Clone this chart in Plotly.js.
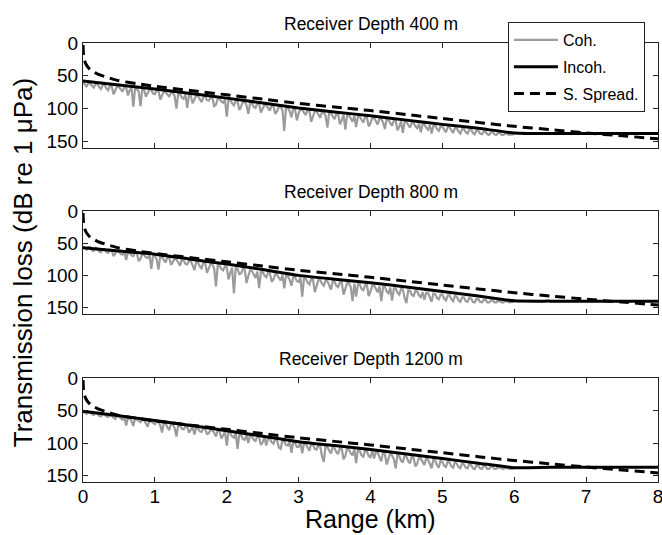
<!DOCTYPE html>
<html>
<head>
<meta charset="utf-8">
<script src="https://cdn.plot.ly/plotly-3.0.1.min.js"></script>
<style>html,body{margin:0;padding:0;background:#fff;}#chart{width:662px;height:535px;}</style>
</head>
<body>
<div id="chart"></div>
<script>
// ---------- data ----------
const panelTitles = ["Receiver Depth 400 m", "Receiver Depth 800 m", "Receiver Depth 1200 m"];
const seriesNames = ["Coh.", "Incoh.", "S. Spread."];
const xAxisTitle = "Range (km)";
const yAxisTitle = "Transmission loss (dB re 1 μPa)";
const xTicks = [0, 1, 2, 3, 4, 5, 6, 7, 8];
const yTicks = [0, 50, 100, 150];

// range grid (km) for the coherent TL samples
const cohRange = [
 0,0.025,0.05,0.075,0.1,0.125,0.15,0.175,0.2,0.225,0.25,0.275,0.3,0.325,0.35,0.375,0.4,0.425,0.45,0.475,
 0.5,0.525,0.55,0.575,0.6,0.625,0.65,0.675,0.7,0.725,0.75,0.775,0.8,0.825,0.85,0.875,0.9,0.925,0.95,0.975,
 1,1.025,1.05,1.075,1.1,1.125,1.15,1.175,1.2,1.225,1.25,1.275,1.3,1.325,1.35,1.375,1.4,1.425,1.45,1.475,
 1.5,1.525,1.55,1.575,1.6,1.625,1.65,1.675,1.7,1.725,1.75,1.775,1.8,1.825,1.85,1.875,1.9,1.925,1.95,1.975,
 2,2.025,2.05,2.075,2.1,2.125,2.15,2.175,2.2,2.225,2.25,2.275,2.3,2.325,2.35,2.375,2.4,2.425,2.45,2.475,
 2.5,2.525,2.55,2.575,2.6,2.625,2.65,2.675,2.7,2.725,2.75,2.775,2.8,2.825,2.85,2.875,2.9,2.925,2.95,2.975,
 3,3.025,3.05,3.075,3.1,3.125,3.15,3.175,3.2,3.225,3.25,3.275,3.3,3.325,3.35,3.375,3.4,3.425,3.45,3.475,
 3.5,3.525,3.55,3.575,3.6,3.625,3.65,3.675,3.7,3.725,3.75,3.775,3.8,3.825,3.85,3.875,3.9,3.925,3.95,3.975,
 4,4.025,4.05,4.075,4.1,4.125,4.15,4.175,4.2,4.225,4.25,4.275,4.3,4.325,4.35,4.375,4.4,4.425,4.45,4.475,
 4.5,4.525,4.55,4.575,4.6,4.625,4.65,4.675,4.7,4.725,4.75,4.775,4.8,4.825,4.85,4.875,4.9,4.925,4.95,4.975,
 5,5.025,5.05,5.075,5.1,5.125,5.15,5.175,5.2,5.225,5.25,5.275,5.3,5.325,5.35,5.375,5.4,5.425,5.45,5.475,
 5.5,5.525,5.55,5.575,5.6,5.625,5.65,5.675,5.7,5.725,5.75,5.775,5.8,5.825,5.85,5.875,5.9,5.925,5.95,5.975,
 6];

const coh400 = [
 60,63,66,61,62,65,68,62,63,67,70,64,64,69,72,65,66,78,71,66,
 67,70,74,67,68,80,72,68,97,69,70,74,96,70,71,82,76,71,72,77,
 78,72,73,86,80,74,75,79,82,75,76,81,100,77,78,83,85,78,99,79,
 80,92,86,80,81,85,90,82,82,87,88,83,84,96,94,85,85,89,91,86,
 112,86,87,92,95,88,89,102,97,89,90,95,108,91,92,97,99,92,93,106,
 101,94,95,99,103,95,96,108,104,97,98,102,134,98,99,104,113,100,101,118,
 107,101,102,106,110,102,103,120,112,104,104,109,114,105,106,111,129,106,107,112,
 116,108,108,124,118,109,132,110,110,115,120,111,128,112,112,117,121,113,113,127,
 122,114,114,119,124,115,116,121,131,116,117,122,126,118,118,133,128,119,137,120,
 120,125,129,121,122,127,130,123,136,124,124,129,132,125,138,126,126,131,134,127,
 127,132,136,128,128,133,137,129,130,135,138,131,131,136,138,132,132,137,139,133,
 134,138,139,135,135,139,140,136,136,139,140,137,137,140,140,138,138,140,140,139,
 139];

const coh800 = [
 55,58,60,56,56,61,62,57,58,63,64,59,59,64,65,60,61,70,66,62,
 63,67,68,63,76,64,65,69,70,65,66,78,74,67,68,72,73,68,90,69,
 70,75,91,70,72,77,80,71,73,84,79,74,75,81,85,75,77,82,83,77,
 78,84,92,79,80,86,89,80,81,96,88,82,83,89,117,84,85,90,92,86,
 87,106,96,88,128,89,90,98,97,90,91,112,101,92,93,99,104,94,120,95,
 95,100,103,96,97,110,106,98,99,104,108,99,120,100,101,107,116,102,103,109,
 110,103,133,104,105,111,114,105,106,126,118,107,107,113,116,108,109,115,122,109,
 110,116,118,111,111,130,120,112,112,118,140,113,133,114,114,121,123,115,115,132,
 125,116,116,122,126,117,140,118,118,125,128,119,139,120,120,127,130,121,122,135,
 143,123,124,130,132,124,125,131,134,126,138,127,127,134,141,128,129,135,137,130,
 130,136,139,131,131,137,140,132,133,139,141,134,134,140,141,135,136,141,142,137,
 137,141,142,138,138,142,142,139,139,142,142,140,140,142,142,140,140,142,142,141,
 141];

const coh1200 = [
 52,54,55,52,53,56,57,54,55,58,59,55,56,59,60,57,58,61,63,58,
 59,62,64,60,73,61,62,66,74,62,64,67,68,63,65,70,75,65,67,70,
 71,66,68,73,84,68,70,76,80,70,72,77,90,72,73,78,79,74,75,84,
 80,75,87,76,78,82,83,77,79,86,85,79,81,84,90,80,82,93,88,82,
 104,83,85,90,92,84,109,86,88,94,95,87,100,88,90,95,97,89,92,103,
 99,91,104,92,94,99,101,93,96,107,109,95,98,103,104,97,115,98,100,106,
 106,99,116,100,102,108,112,101,103,109,110,103,105,120,129,104,106,112,116,105,
 108,114,117,107,109,125,120,108,110,116,119,109,131,110,112,119,121,111,113,120,
 122,112,124,113,115,122,128,114,117,133,126,116,119,125,139,118,120,127,130,119,
 121,128,131,120,123,136,132,122,124,130,134,123,126,132,139,125,127,134,138,127,
 129,135,137,128,130,136,138,129,132,137,139,131,133,138,139,132,134,139,140,134,
 135,139,140,135,136,140,140,136,137,140,140,137,138,140,140,138,139,140,140,139,
 139];

// incoherent TL (km, dB)
const incohRange = [0,0.5,1,1.5,2,2.5,3,3.5,4,4.5,5,5.5,6,6.5,7,7.5,8];
const incoh400  = [58,64,70,77,84,91.5,99,105,111,117.5,124,130,137,138,138,138,138];
const incoh800  = [57,62,67,75,82.5,91,100,106,111.5,118,125,132,139.5,140,140,140,140];
const incoh1200 = [51,58,65.5,73,81,89.5,98,104,110,117,124,131,138,137.5,137.5,137.5,137.5];

// spherical spreading (km, dB)
const spreadRange = [0.001,0.003,0.006,0.01,0.02,0.04,0.07,0.1,0.15,0.2,0.3,0.5,0.75,1,1.5,2,2.5,3,3.5,4,4.5,5,5.5,6,6.5,7,7.5,8];
const spreadTL    = [3,10,16,20,26,32,37,40.5,44,47,51,57.5,62,66,72.5,79,85.5,92,97.5,103,109,115,121,127,132,137,141.5,146];

// ---------- figure ----------
const cohSets = [coh400, coh800, coh1200];
const incohSets = [incoh400, incoh800, incoh1200];
const domains = [[0.7608, 1], [0.3827, 0.6173], [0, 0.2369]];
const FONT = "Liberation Sans, Arial, Helvetica, sans-serif";

const traces = [];
for (let p = 0; p < 3; p++) {
  const xa = p === 0 ? "x" : "x" + (p + 1);
  const ya = p === 0 ? "y" : "y" + (p + 1);
  traces.push({x: cohRange, y: cohSets[p], xaxis: xa, yaxis: ya, type: "scatter", mode: "lines",
    name: seriesNames[0], legendgroup: "g0", showlegend: p === 0,
    line: {color: "#9b9b9b", width: 2.2}});
  traces.push({x: incohRange, y: incohSets[p], xaxis: xa, yaxis: ya, type: "scatter", mode: "lines",
    name: seriesNames[1], legendgroup: "g1", showlegend: p === 0,
    line: {color: "#000", width: 3, shape: "spline", smoothing: 0.6}});
  traces.push({x: spreadRange, y: spreadTL, xaxis: xa, yaxis: ya, type: "scatter", mode: "lines",
    name: seriesNames[2], legendgroup: "g2", showlegend: p === 0,
    line: {color: "#000", width: 3, dash: "10px,6px", shape: "spline", smoothing: 0.6}});
}

const axCommon = {showline: true, linecolor: "#222", linewidth: 1, mirror: "ticks",
  ticks: "inside", ticklen: 5, tickwidth: 1, tickcolor: "#222", showgrid: false, zeroline: false};

const layout = {
  width: 662, height: 535,
  margin: {l: 83, r: 4, t: 43, b: 53, pad: 0},
  paper_bgcolor: "#fff", plot_bgcolor: "#fff",
  font: {family: FONT, size: 19, color: "#000"},
  showlegend: true,
  legend: {x: 0.739, y: 1.048, xanchor: "left", yanchor: "top", bgcolor: "#fff",
    bordercolor: "#222", borderwidth: 1, font: {size: 16, family: FONT},
    traceorder: "grouped", tracegroupgap: 3, itemwidth: 44},
  annotations: [],
};

for (let p = 0; p < 3; p++) {
  const sfx = p === 0 ? "" : String(p + 1);
  layout["xaxis" + sfx] = Object.assign({}, axCommon, {
    domain: [0, 1], anchor: "y" + sfx, range: [0, 8], tickvals: xTicks,
    showticklabels: p === 2, tickfont: {size: 19}, ticklabeloverflow: "allow",
    ticklabelstandoff: -3
  });
  layout["yaxis" + sfx] = Object.assign({}, axCommon, {
    domain: domains[p], anchor: "x" + sfx, range: [160, 0], tickvals: yTicks,
    tickfont: {size: 19}
  });
  layout.annotations.push({text: panelTitles[p], xref: "paper", yref: "paper",
    x: 0.5, y: domains[p][1], xanchor: "center", yanchor: "bottom", yshift: 7,
    showarrow: false, font: {size: 17.5, family: FONT}});
}
// x-axis title placed at the bottom edge of the figure (below the tick labels)
layout.annotations.push({text: xAxisTitle, xref: "paper", yref: "paper",
  x: 0.5, y: -53 / 439, xanchor: "center", yanchor: "bottom", yshift: 0,
  showarrow: false, font: {size: 25, family: FONT}});
layout.yaxis2.title = {text: yAxisTitle, font: {size: 26, family: FONT}, standoff: 6};

Plotly.newPlot("chart", traces, layout, {displayModeBar: false, staticPlot: true});
</script>
</body>
</html>
